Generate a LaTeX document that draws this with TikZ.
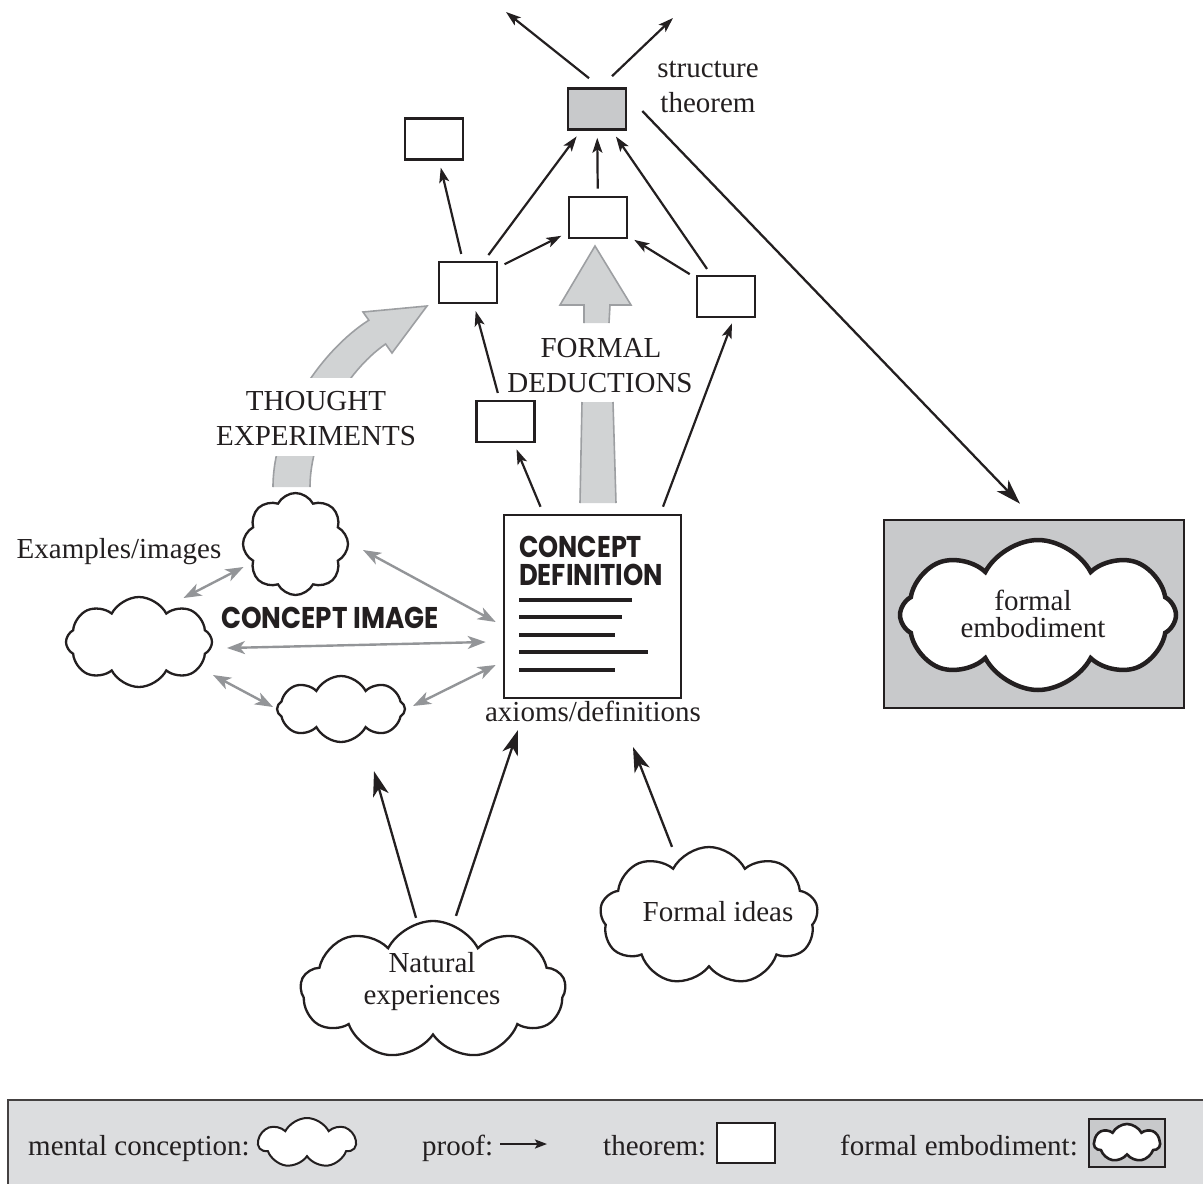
\documentclass[tikz,border=0pt]{standalone}
\usepackage{fontspec}
\usepackage{graphicx}
\setmainfont{Liberation Serif}
\newfontfamily\titlefont{Poppins}
\usetikzlibrary{arrows.meta,shapes.symbols,calc}
\definecolor{ink}{HTML}{231F20}
\definecolor{boxgray}{HTML}{C8C9CB}
\definecolor{arrfill}{HTML}{D1D3D4}
\definecolor{arredge}{HTML}{9D9FA2}
\definecolor{dbl}{HTML}{939598}
\definecolor{legbg}{HTML}{DCDDDF}
\tikzset{
  txt/.style={font=\fontsize{29}{35}\selectfont, text=ink, inner sep=0pt, anchor=base},
  ctitle/.style={font=\titlefont\bfseries\fontsize{30}{32}\selectfont, text=ink, inner sep=0pt},
  thm/.style={draw=ink, line width=2.6pt, fill=white, minimum width=58pt, minimum height=41pt, inner sep=0pt},
  mcloud/.style={cloud, cloud puffs=9, cloud puff arc=125, cloud ignores aspect, draw=ink, line width=2.3pt, fill=white, inner sep=0pt},
  proof/.style={draw=ink, line width=2.2pt, -{Stealth[length=15pt,width=10pt,inset=3.5pt]}},
  bigproof/.style={draw=ink, line width=2.3pt, -{Stealth[length=25pt,width=16pt,inset=7pt]}},
  link/.style={draw=dbl, line width=2.4pt, {Stealth[length=18pt,width=13pt,inset=5pt]}-{Stealth[length=18pt,width=13pt,inset=5pt]}},
  bigarrow/.style={fill=arrfill, draw=arredge, line width=1.6pt, line join=miter},
  gap/.style={shorten <=7pt, shorten >=7pt},
}
\begin{document}
\begin{tikzpicture}[x=1pt,y=-1pt]
\useasboundingbox (0,0) rectangle (1203,1184);

% ---------- big grey arrows ----------
\path[bigarrow] (273,487) .. controls (273,420) and (322,350) .. (368.8,320.2) -- (363,312) -- (427,306) -- (392,353) -- (385.6,344) .. controls (345,372) and (310,435) .. (310,487);
\fill[white] (245,378) rectangle (390,456);
\path[bigarrow] (584,323) -- (584,305) -- (560,305) -- (595,246) -- (631,305) -- (610,305) -- (609,323);
\fill[arrfill] (580,503) -- (582,402) -- (613,402) -- (616,503) -- cycle;
\draw[arredge, line width=1.6pt] (580,503) -- (582,402) (613,402) -- (616,503);

% ---------- theorems ----------
\node[thm, fill=boxgray] (S) at (597,109) {};
\node[thm] (TL) at (434,139) {};
\node[thm] (M) at (598,217.5) {};
\node[thm] (L) at (468,282.5) {};
\node[thm] (R) at (726,296.5) {};
\node[thm] (B) at (505.5,421.5) {};

% ---------- concept definition ----------
\node[draw=ink, line width=2.6pt, fill=white, minimum width=177pt, minimum height=183pt, inner sep=0pt] (CD) at (592.5,606.5) {};
\node[ctitle, anchor=base west] (cdA) at (519,557) {\scalebox{0.85}[1]{CONCEPT}};
\node[ctitle, anchor=base west] (cdB) at (519,585) {\scalebox{0.86}[1]{DEFINITION}};
\foreach \yy/\xe in {600/632, 617/622, 635/615, 652/648, 670/615}
  \draw[ink, line width=4.5pt] (519,\yy) -- (\xe,\yy);

% ---------- formal embodiment ----------
\node[draw=ink, line width=2.6pt, fill=boxgray, minimum width=300pt, minimum height=188pt, inner sep=0pt] (FE) at (1034,614) {};
\node[mcloud, line width=4.5pt, minimum width=276pt, minimum height=150pt, cloud puffs=8] (FEc) at (1038,615) {};

% ---------- clouds ----------
\node[mcloud, minimum width=105pt, minimum height=102pt, cloud puffs=8] (TC) at (295.5,544) {};
\node[mcloud, minimum width=146pt, minimum height=90pt, cloud puffs=8] (LC) at (139,642) {};
\node[mcloud, minimum width=128pt, minimum height=66pt, cloud puffs=8] (BC) at (341,709) {};
\node[mcloud, minimum width=265pt, minimum height=138pt, shape border rotate=10] (NE) at (433,990) {};
\node[mcloud, minimum width=218pt, minimum height=138pt] (FI) at (709,916) {};

% ---------- labels ----------
\node[txt] (stA) at (708,77) {structure};
\node[txt] (stB) at (708,112) {theorem};
\node[txt] (fdA) at (601,357) {FORMAL};
\node[txt] (fdB) at (600,392) {DEDUCTIONS};
\node[txt] (teA) at (316,410) {THOUGHT};
\node[txt] (teB) at (316,445) {EXPERIMENTS};
\node[txt] (ex) at (119,558) {Examples/images};
\node[ctitle, anchor=base] (ci) at (330,628) {\scalebox{0.875}[1]{CONCEPT IMAGE}};
\node[txt] (ax) at (593,721) {axioms/definitions};
\node[txt] (neA) at (432,972) {Natural};
\node[txt] (neB) at (432,1004) {experiences};
\node[txt] (fi) at (718,921) {Formal ideas};
\node[txt] (feA) at (1033,610) {formal};
\node[txt] (feB) at (1033,637) {embodiment};

% ---------- proofs between theorems ----------
\draw[proof, gap] (L) -- (TL);
\draw[proof, gap] (L) -- (S);
\draw[proof, gap] (L) -- (M);
\draw[proof, gap] (M) -- (S);
\draw[proof, gap] (R) -- (M);
\draw[proof, gap] (R) -- (S);
\draw[proof, gap] (B) -- (L);

\coordinate (upL) at (506,12);
\coordinate (upR) at (673,18);
\draw[proof] ($(S.north)+(-8,-9)$) -- (upL);
\draw[proof] ($(S.north)+(15,-11)$) -- (upR);
\draw[bigproof] ($(S.east)+(15,2)$) -- ($(FE.north)+(-14,-15)$);

\draw[proof] ($(CD.north)+(-52,-7)$) -- ($(B.south)+(11,6)$);
\draw[proof] ($(CD.north)+(70.5,-7)$) -- ($(R.south)+(6,5)$);

\draw[bigproof] ($(NE.north)+(-17,-2)$) -- ($(BC.south)+(33,28)$);
\draw[bigproof] ($(NE.north)+(23,-4)$) -- ($(ax.base)+(-75,9)$);
\draw[bigproof] ($(FI.north)+(-37,1)$) -- ($(ax.base)+(40,26)$);

% ---------- concept image links ----------
\draw[link] ($(TC)+(-112,54)$) -- ($(TC)+(-52,23)$);
\draw[link] ($(TC)+(67.5,6)$) -- ($(CD.west)+(-7,15.5)$);
\draw[link] ($(LC)+(88,6)$) -- ($(CD.west)+(-17,35.5)$);
\draw[link] ($(LC)+(74,33)$) -- ($(BC)+(-68,-2)$);
\draw[link] ($(BC)+(72,-3)$) -- ($(CD.west)+(-7,58.5)$);

% ---------- legend ----------
\draw[fill=legbg, draw=ink!85, line width=2.4pt] (8,1100) rectangle (1215,1200);
\node[txt, anchor=base west] (lg1) at (28,1155) {mental conception:};
\node[mcloud, minimum width=97pt, minimum height=50pt, line width=2pt, cloud puffs=7] (lgc) at (307,1143) {};
\node[txt, anchor=base west] (lg2) at (422,1155) {proof:};
\coordinate (lgpa) at (500,1144);
\coordinate (lgpb) at (547,1144);
\draw[proof, -{Stealth[length=12pt,width=9pt,inset=2.5pt]}] (lgpa) -- (lgpb);
\node[txt, anchor=base west] (lg3) at (603,1155) {theorem:};
\node[thm, minimum height=40pt] (lgt) at (746,1143) {};
\node[txt, anchor=base west] (lg4) at (840,1155) {formal embodiment:};
\node[draw=ink, line width=2.4pt, fill=boxgray, minimum width=76pt, minimum height=48pt, inner sep=0pt] (lgf) at (1127,1143) {};
\node[mcloud, minimum width=66pt, minimum height=38pt, line width=2.6pt, cloud puffs=7] (lgfc) at (1127,1143) {};
\end{tikzpicture}
\end{document}
